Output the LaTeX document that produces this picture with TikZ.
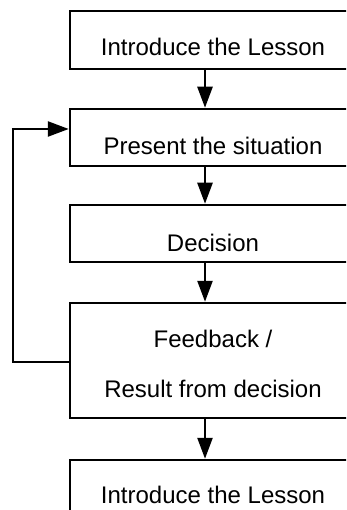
\documentclass[tikz,border=0pt]{standalone}
\usepackage{fontspec}
\setmainfont{Liberation Sans}
\usetikzlibrary{arrows.meta}
\tikzset{
  stepbox/.style={draw=black, line width=2.5pt, fill=white, rectangle,
    minimum width=286pt, inner sep=0pt, text depth=0pt,
    font=\fontsize{24}{50}\selectfont},
  flow/.style={draw=black, line width=2.5pt,
    -{Triangle[length=21pt,width=15pt]}},
  loopline/.style={draw=black, line width=2.5pt, line join=miter}
}
\begin{document}
\begin{tikzpicture}[x=1pt, y=-1pt]
  \useasboundingbox (0,0) rectangle (346,510);
  \clip (0,0) rectangle (346,510);
  \fill[white] (0,0) rectangle (346,510);

  % the five stages of the lesson
  \node[stepbox, minimum height=58pt, text height=32pt] (b1) at (213,40) {Introduce the Lesson};
  \node[stepbox, minimum height=57pt, text height=35pt] (b2) at (213,137.5) {Present the situation};
  \node[stepbox, minimum height=57pt, text height=35pt] (b3) at (213,233.5) {Decision};
  \node[stepbox, minimum height=115pt, align=center] (b4) at (213,360.5)
    {\rule{0pt}{24pt}Feedback /\\Result from decision};
  \node[stepbox, minimum height=58pt, text height=28pt] (b5) at (213,489) {Introduce the Lesson};

  % column of the downward arrows and of the feedback loop
  \coordinate (ax) at (205,0);
  \coordinate (lx) at (13,0);

  \draw[flow] (b1.south -| ax) -- (b2.north -| ax);
  \draw[flow] (b2.south -| ax) -- (b3.north -| ax);
  \draw[flow] (b3.south -| ax) -- (b4.north -| ax);
  \draw[flow] (b4.south -| ax) -- (b5.north -| ax);

  % feedback loop back to the situation
  \coordinate (lstart) at ([yshift=-1.5pt]b4.west);
  \coordinate (lend) at ([yshift=8.5pt]b2.west);
  \draw[loopline] (lstart) -- (lstart -| lx) -- (lend -| lx);
  \draw[flow] ([xshift=-1.25pt]lend -| lx) -- (lend);
\end{tikzpicture}
\end{document}
